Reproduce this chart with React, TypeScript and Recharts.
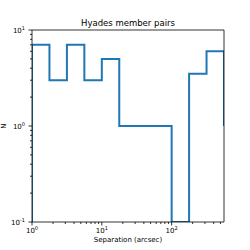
import { LineChart, Line, XAxis, YAxis } from "recharts";

// histogram bin edges (log spaced, 0.25 dex) and counts per bin
const binEdges = [1, 1.778, 3.162, 5.623, 10, 17.78, 31.62, 56.23, 100, 177.8, 316.2, 562.3];
const binCounts = [7, 3, 7, 3, 5, 1, 1, 1, 0.1, 3.5, 6];

const xTicks = [1, 2, 3, 4, 5, 6, 7, 8, 9, 10, 20, 30, 40, 50, 60, 70, 80, 90, 100, 200, 300, 400, 500];
const xMajor = [1, 10, 100];
const yTicks = [0.1, 0.2, 0.3, 0.4, 0.5, 0.6, 0.7, 0.8, 0.9, 1, 2, 3, 4, 5, 6, 7, 8, 9, 10];
const yMajor = [0.1, 1, 10];

const FONT = "DejaVu Sans, sans-serif";

// build step outline: start at the floor, run through the bins, close on the right
const stepData = [
  { x: binEdges[0], y: 0.1 },
  ...binCounts.map((c, i) => ({ x: binEdges[i], y: c })),
  { x: binEdges[binEdges.length - 1], y: binCounts[binCounts.length - 1] },
  { x: binEdges[binEdges.length - 1], y: 1 },
];

const XTick = (props: any) => {
  const { x, y, payload } = props;
  const v = payload.value;
  const major = xMajor.includes(v);
  return (
    <g>
      <line x1={x} x2={x} y1={y} y2={y + (major ? 3.5 : 2)} stroke="#000" strokeWidth={0.8} />
      {major && (
        <text x={x} y={y + 11} textAnchor="middle" fontSize={7} fontFamily={FONT} fill="#000">
          10<tspan dy={-3} fontSize={5}>{Math.round(Math.log10(v))}</tspan>
        </text>
      )}
    </g>
  );
};

const YTick = (props: any) => {
  const { x, y, payload } = props;
  const v = payload.value;
  const major = yMajor.includes(v);
  return (
    <g>
      <line x1={x} x2={x - (major ? 3.5 : 2)} y1={y} y2={y} stroke="#000" strokeWidth={0.8} />
      {major && (
        <text x={x - 7} y={y + 2.5} textAnchor="end" fontSize={7} fontFamily={FONT} fill="#000">
          10<tspan dy={-3} fontSize={5}>{Math.round(Math.log10(v))}</tspan>
        </text>
      )}
    </g>
  );
};

export default function App() {
  return (
    <div style={{ position: "absolute", left: 0, top: 0, width: 250, height: 250, background: "#fff" }}>
      <LineChart width={250} height={250} data={stepData} margin={{ top: 0, right: 0, bottom: 0, left: 0 }}>
        <XAxis
          dataKey="x"
          type="number"
          scale="log"
          domain={[1, 562.3]}
          allowDataOverflow
          ticks={xTicks}
          interval={0}
          tick={<XTick />}
          tickLine={false}
          tickSize={0}
          tickMargin={0}
          height={28}
          axisLine={{ stroke: "#000", strokeWidth: 0.8 }}
        />
        <XAxis xAxisId="top" orientation="top" type="number" domain={[0, 1]} tick={false} tickLine={false} height={30} axisLine={{ stroke: "#000", strokeWidth: 0.8 }} />
        <YAxis
          type="number"
          scale="log"
          domain={[0.1, 10]}
          allowDataOverflow
          ticks={yTicks}
          interval={0}
          tick={<YTick />}
          tickLine={false}
          tickSize={0}
          tickMargin={0}
          width={32}
          axisLine={{ stroke: "#000", strokeWidth: 0.8 }}
        />
        <YAxis yAxisId="right" orientation="right" type="number" domain={[0, 1]} tick={false} tickLine={false} width={26} axisLine={{ stroke: "#000", strokeWidth: 0.8 }} />
        <Line type="stepAfter" dataKey="y" stroke="#1f77b4" strokeWidth={2} dot={false} isAnimationActive={false} />
      </LineChart>
      <div style={{ position: "absolute", left: 32, width: 192, top: 18, textAlign: "center", fontFamily: FONT, fontSize: 8.5 }}>
        Hyades member pairs
      </div>
      <div style={{ position: "absolute", left: 32, width: 192, top: 236, textAlign: "center", fontFamily: FONT, fontSize: 7 }}>
        Separation (arcsec)
      </div>
      <div style={{ position: "absolute", left: 4, top: 126, transform: "translate(-50%, -50%) rotate(-90deg)", fontFamily: FONT, fontSize: 7 }}>
        N
      </div>
    </div>
  );
}
